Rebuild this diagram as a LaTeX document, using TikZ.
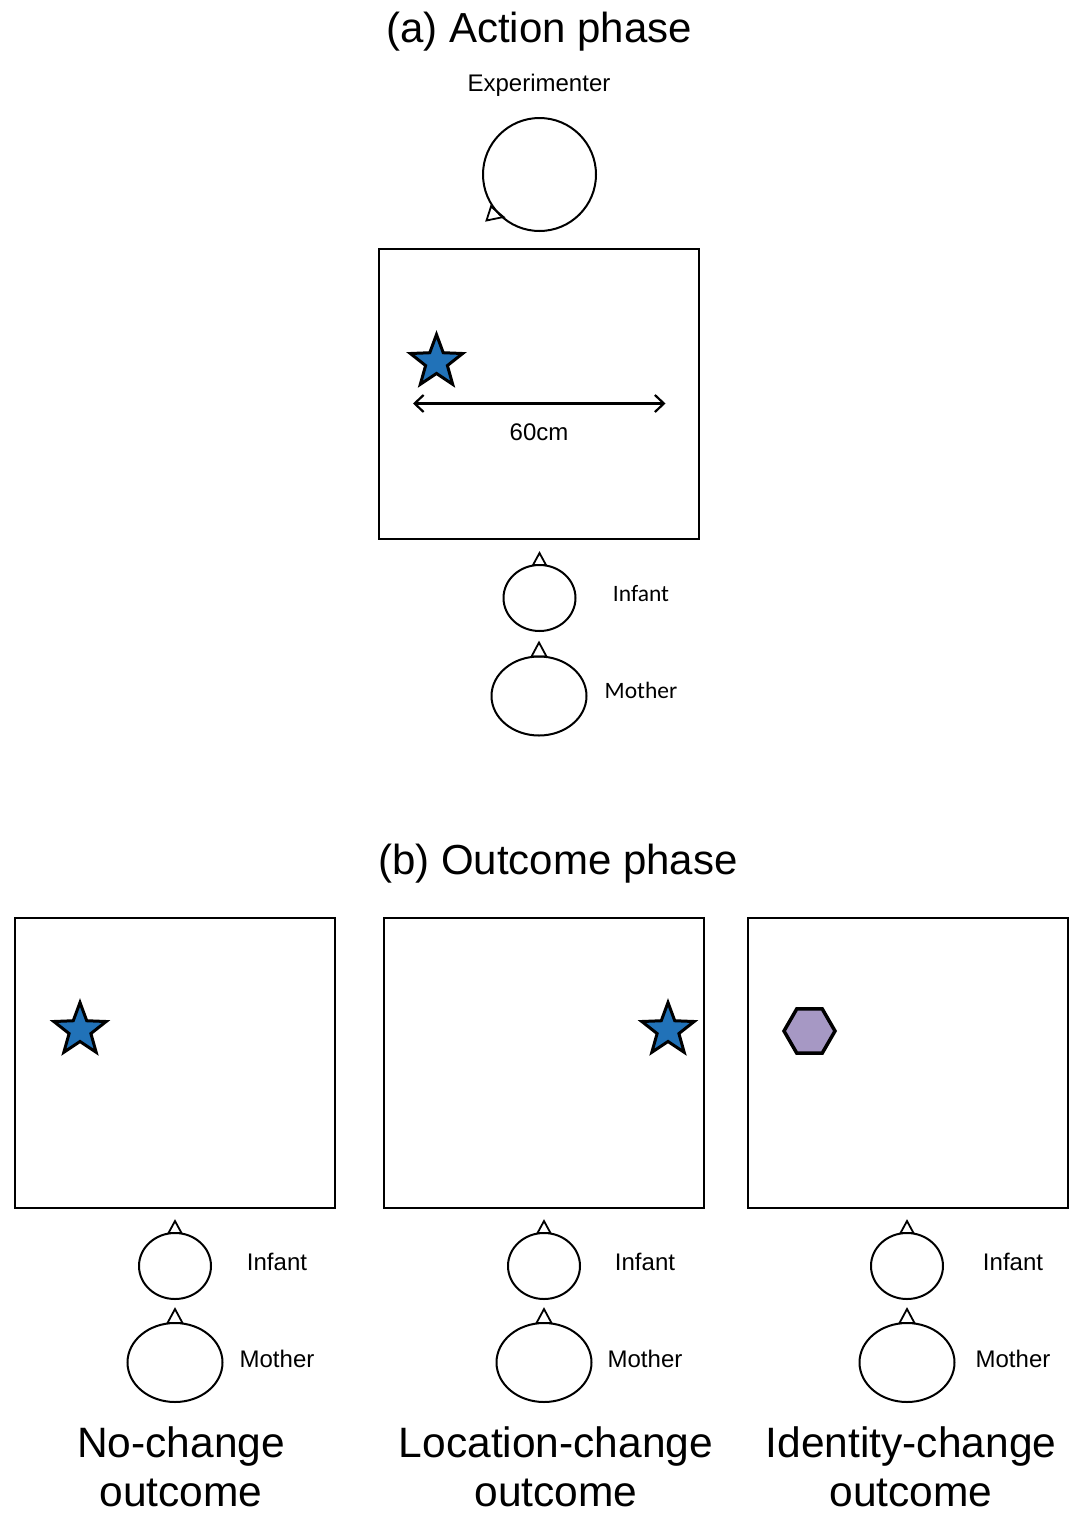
\documentclass[tikz,border=0pt]{standalone}
\usepackage{fontspec}
\setmainfont{Liberation Sans}
\newfontfamily\calib{Carlito}
\usetikzlibrary{shapes.geometric,arrows.meta,calc}
\definecolor{starblue}{RGB}{33,114,184}
\definecolor{hexlav}{RGB}{166,152,196}
\begin{document}
\begin{tikzpicture}[x=1pt,y=-1pt,
  every node/.style={inner sep=0pt,outer sep=0pt},
  tablebox/.style={draw,line width=2pt,minimum width=320pt,minimum height=290pt},
  head/.style={draw,line width=2pt,ellipse},
  infanthead/.style={head,minimum width=72pt,minimum height=66pt},
  motherhead/.style={head,minimum width=95pt,minimum height=79pt},
  nose/.style={draw,line width=1.8pt,line join=miter},
  bluestar/.style={star,star points=5,star point ratio=2.4,minimum size=55pt,fill=starblue,draw,line width=3pt,line join=miter},
  hexa/.style={regular polygon,regular polygon sides=6,minimum size=51pt,fill=hexlav,draw,line width=3.5pt},
  title/.style={font=\fontsize{42}{48}\selectfont,anchor=base},
  smalllab/.style={font=\fontsize{24}{28}\selectfont,anchor=base},
  callab/.style={font=\calib\fontsize{23.5}{28}\selectfont,anchor=base},
  outlab/.style={font=\fontsize{42.5}{50}\selectfont,anchor=base}
]
\useasboundingbox (0,0) rectangle (1075,1513);

% ---------- (a) Action phase ----------
\node[title] (ta) at (539,42) {(a) Action phase};
\node[smalllab] (explab) at (539,91.5) {Experimenter};
\node[draw,line width=2pt,circle,minimum size=113pt] (exp) at (539.5,174.5) {};
\draw[nose] ($(exp.center)+(-48.5,32)$) -- ($(exp.center)+(-53,46)$) -- ($(exp.center)+(-36,42.5)$) -- cycle;

\node[tablebox] (tab) at (539,394) {};
\node[bluestar] (s0) at (436.5,362) {};
\coordinate (al) at (413,403.5);
\coordinate (ar) at (665.5,403.5);
\draw[line width=2.2pt,{Straight Barb[length=9pt,width=17pt]}-{Straight Barb[length=9pt,width=17pt]}] (al) -- (ar);
\node[smalllab] (dist) at (539,440) {60cm};

\node[infanthead] (inf0) at (539.5,598) {};
\draw[nose] ($(inf0.north)+(-6.5,0)$) -- ($(inf0.north)+(0,-12)$) -- ($(inf0.north)+(6.5,0)$) -- cycle;
\node[callab] (inflab0) at (641,601.5) {Infant};
\node[motherhead] (mot0) at (539,696) {};
\draw[nose] ($(mot0.north)+(-7.5,0)$) -- ($(mot0.north)+(0,-14)$) -- ($(mot0.north)+(7.5,0)$) -- cycle;
\node[callab] (motlab0) at (641,698.5) {Mother};

% ---------- (b) Outcome phase ----------
\node[title] (tb) at (558,874) {(b) Outcome phase};

\node[tablebox] (tab1) at (174.5,1062.5) {};
\node[tablebox] (tab2) at (544,1062.5) {};
\node[tablebox] (tab3) at (907.5,1062.5) {};

\node[bluestar] (s1) at (80,1030) {};
\node[bluestar] (s2) at (668,1030) {};
\node[hexa] (h3) at (809.5,1031) {};

\foreach \i/\x/\lx/\ox/\txt in {1/175/277/181/No-change,2/544/645/556/Location-change,3/907/1013/911/Identity-change}{
  \node[infanthead] (inf\i) at (\x,1266) {};
  \draw[nose] ($(inf\i.north)+(-6.5,0)$) -- ($(inf\i.north)+(0,-12)$) -- ($(inf\i.north)+(6.5,0)$) -- cycle;
  \node[smalllab] (inflab\i) at (\lx,1270) {Infant};
  \node[motherhead] (mot\i) at (\x,1362.5) {};
  \draw[nose] ($(mot\i.north)+(-7.5,0)$) -- ($(mot\i.north)+(0,-14)$) -- ($(mot\i.north)+(7.5,0)$) -- cycle;
  \node[smalllab] (motlab\i) at (\lx,1367) {Mother};
  \node[outlab] (outa\i) at (\ox,1457) {\txt};
  \node[outlab] (outb\i) at (\ox,1506) {outcome};
}
\end{tikzpicture}
\end{document}
